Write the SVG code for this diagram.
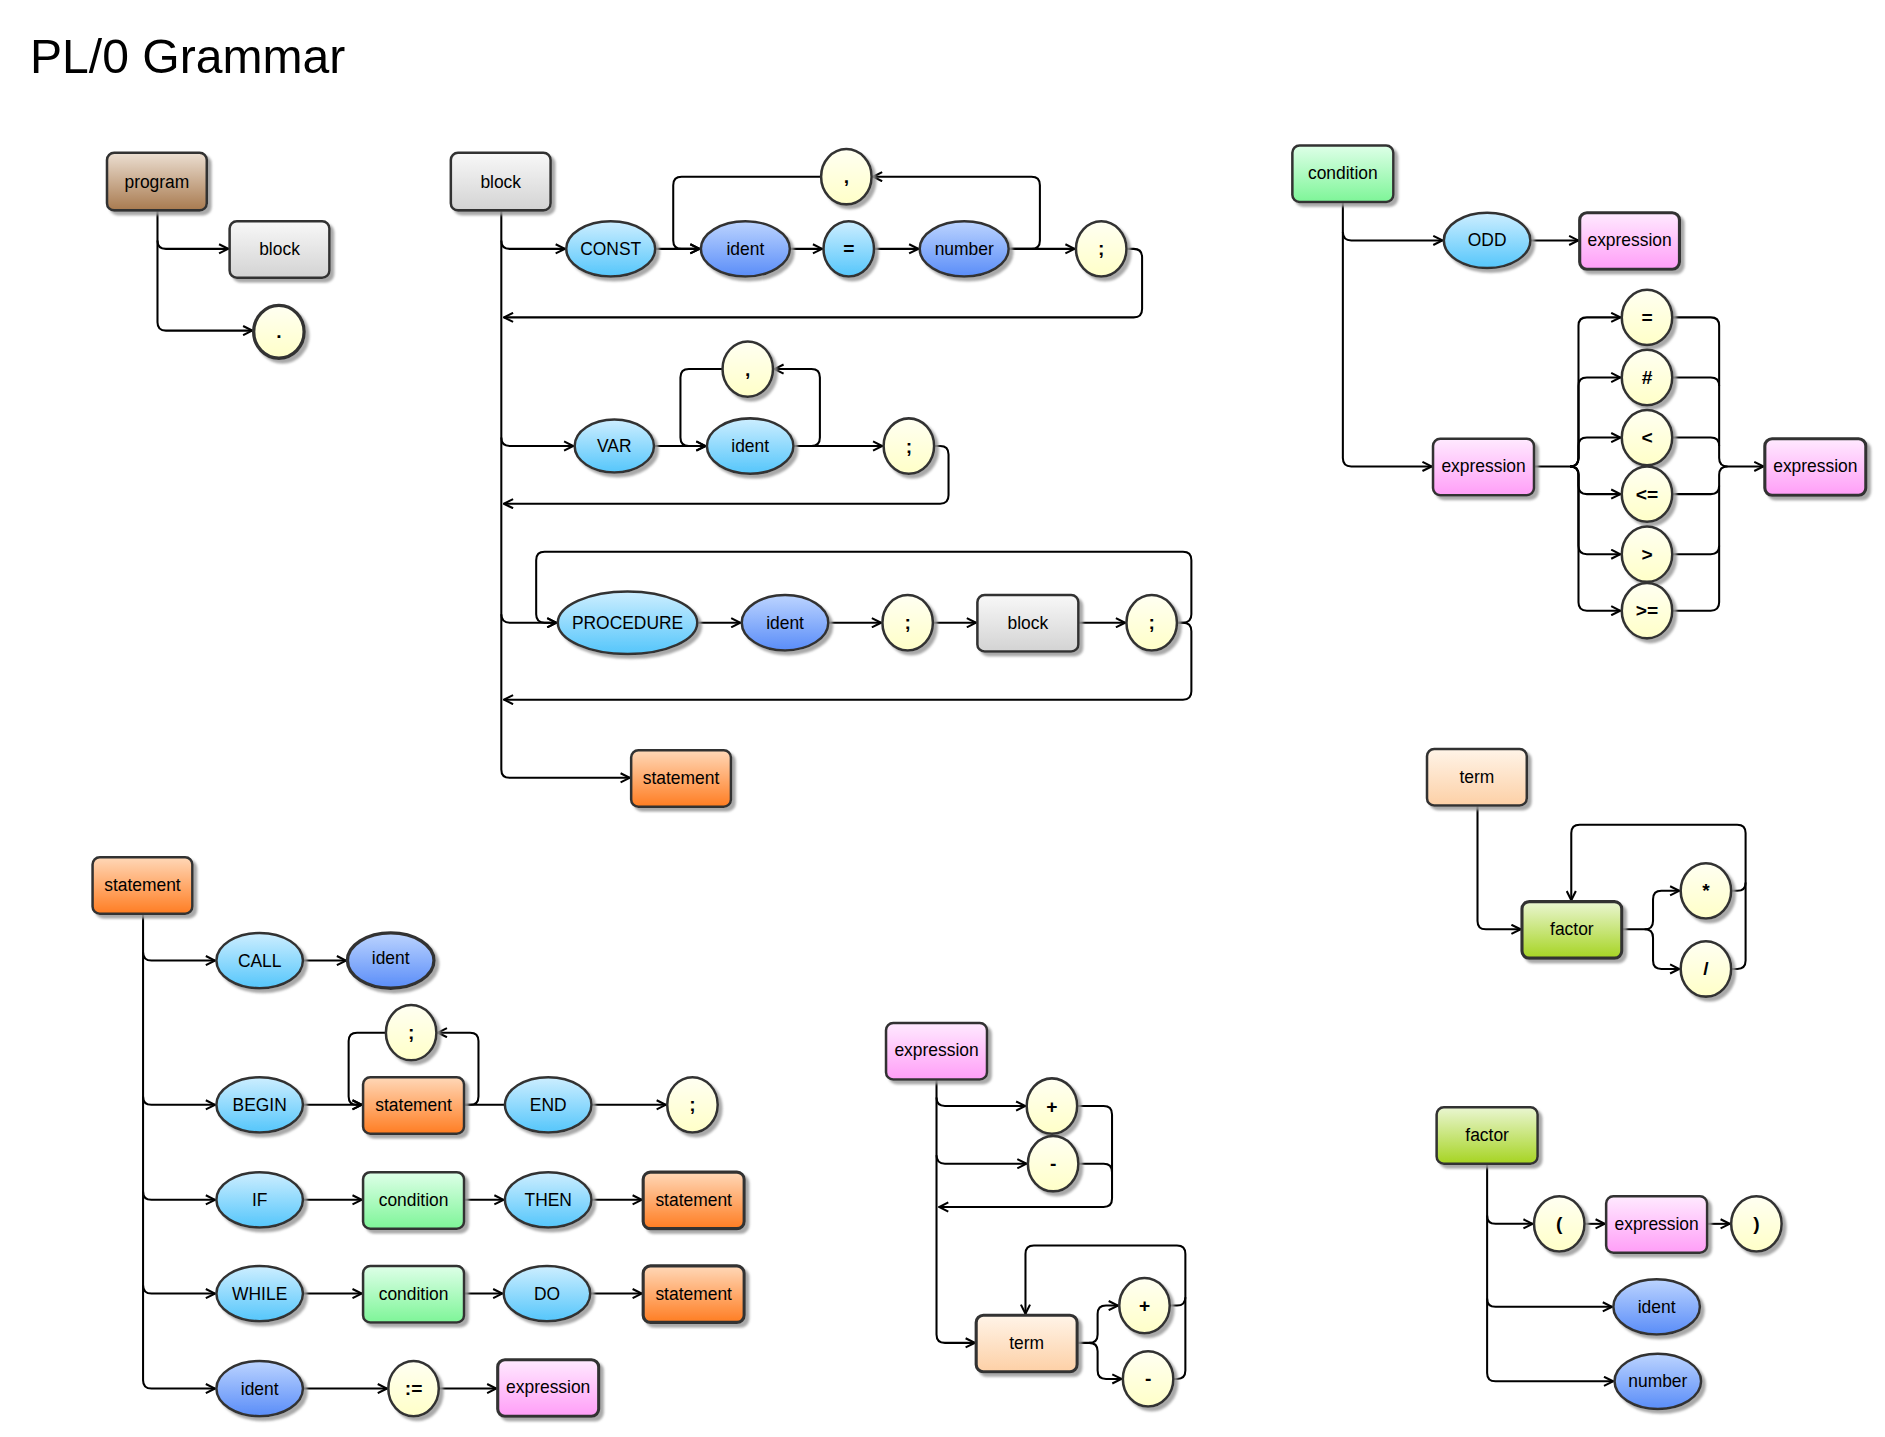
<svg xmlns="http://www.w3.org/2000/svg" width="1885" height="1437" viewBox="0 0 1885 1437">
<defs>
<style>
.c{fill:none;stroke:#000;stroke-width:1.7;stroke-linejoin:round}
.a{marker-end:url(#ar)}
.n{stroke:#333;stroke-width:2.1;filter:url(#sh)}
.t{font-family:"Liberation Sans",Arial,sans-serif;font-size:14.5px;text-anchor:middle;dominant-baseline:central;fill:#000}
.b{font-weight:bold;font-size:16px}
.gy{fill:url(#gGray)}.br{fill:url(#gBrown)}.ye{fill:url(#gYel)}.lb{fill:url(#gLB)}.db{fill:url(#gDB)}
.or{fill:url(#gOr)}.gr{fill:url(#gGr)}.pk{fill:url(#gPk)}.pe{fill:url(#gPe)}.li{fill:url(#gLi)}
</style>
<filter id="sh" x="-20%" y="-20%" width="150%" height="150%"><feDropShadow dx="3" dy="3" stdDeviation="0.8" flood-color="#9a9a9a" flood-opacity="0.85"/></filter>
<marker id="ar" viewBox="0 0 10 10" refX="9.2" refY="5" markerWidth="9.5" markerHeight="9.5" markerUnits="userSpaceOnUse" orient="auto"><path d="M1,1 L9,5 L1,9" fill="none" stroke="#000" stroke-width="1.8"/></marker>
<linearGradient id="gGray" x1="0" y1="0" x2="0" y2="1"><stop offset="0" stop-color="#f8f8f8"/><stop offset="1" stop-color="#d3d3d3"/></linearGradient>
<linearGradient id="gBrown" x1="0" y1="0" x2="0" y2="1"><stop offset="0" stop-color="#ecdfd2"/><stop offset="1" stop-color="#a87a4f"/></linearGradient>
<linearGradient id="gYel" x1="0" y1="0" x2="0" y2="1"><stop offset="0" stop-color="#fffff2"/><stop offset="1" stop-color="#ffffc8"/></linearGradient>
<linearGradient id="gLB" x1="0" y1="0" x2="0" y2="1"><stop offset="0" stop-color="#cdeeff"/><stop offset="1" stop-color="#55c6fb"/></linearGradient>
<linearGradient id="gDB" x1="0" y1="0" x2="0" y2="1"><stop offset="0" stop-color="#bcd4ff"/><stop offset="1" stop-color="#5a8df8"/></linearGradient>
<linearGradient id="gOr" x1="0" y1="0" x2="0" y2="1"><stop offset="0" stop-color="#ffd8b8"/><stop offset="1" stop-color="#ff7d22"/></linearGradient>
<linearGradient id="gGr" x1="0" y1="0" x2="0" y2="1"><stop offset="0" stop-color="#deffe8"/><stop offset="1" stop-color="#7ef598"/></linearGradient>
<linearGradient id="gPk" x1="0" y1="0" x2="0" y2="1"><stop offset="0" stop-color="#ffeaff"/><stop offset="1" stop-color="#ff9ef7"/></linearGradient>
<linearGradient id="gPe" x1="0" y1="0" x2="0" y2="1"><stop offset="0" stop-color="#fff4e8"/><stop offset="1" stop-color="#fdd0a6"/></linearGradient>
<linearGradient id="gLi" x1="0" y1="0" x2="0" y2="1"><stop offset="0" stop-color="#eaf6d2"/><stop offset="1" stop-color="#a6d422"/></linearGradient>
</defs>
<rect width="1885" height="1437" fill="#fff"/>
<g transform="scale(1.2022)">
<text x="25" y="61" font-family="'Liberation Sans',Arial,sans-serif" font-size="40" fill="#000">PL/0 Grammar</text>

<g id="connectors">
<!-- program -->
<path class="c a" d="M131,175 V200 Q131,207 138,207 H190"/>
<path class="c a" d="M131,200 V268 Q131,275 138,275 H210"/>
<!-- block -->
<path class="c a" d="M417,175 V640 Q417,647 424,647 H524"/>
<path class="c a" d="M417,200 Q417,207 424,207 H470"/>
<path class="c a" d="M545,207 H582"/>
<path class="c a" d="M657,207 H684"/>
<path class="c a" d="M727,207 H764"/>
<path class="c a" d="M839,207 H894"/>
<path class="c a" d="M839,207 H858 Q865,207 865,200 V154 Q865,147 858,147 H726"/>
<path class="c a" d="M683,147 H567 Q560,147 560,154 V200 Q560,207 567,207 H582"/>
<path class="c a" d="M937,207 H943 Q950,207 950,214 V257 Q950,264 943,264 H419"/>
<path class="c a" d="M417,364 Q417,371 424,371 H477"/>
<path class="c a" d="M544,371 H587"/>
<path class="c a" d="M660,371 H734"/>
<path class="c a" d="M660,371 H675 Q682,371 682,364 V314 Q682,307 675,307 H644"/>
<path class="c a" d="M601,307 H573 Q566,307 566,314 V364 Q566,371 573,371 H587"/>
<path class="c a" d="M777,371 H782 Q789,371 789,378 V412 Q789,419 782,419 H419"/>
<path class="c a" d="M417,511 Q417,518 424,518 H463"/>
<path class="c a" d="M979,518 H984 Q991,518 991,511 V466 Q991,459 984,459 H453 Q446,459 446,466 V511 Q446,518 453,518 H463"/>
<path class="c a" d="M979,518 H984 Q991,518 991,525 V575 Q991,582 984,582 H419"/>
<path class="c a" d="M580,518 H616"/>
<path class="c a" d="M689,518 H733"/>
<path class="c a" d="M776,518 H812"/>
<path class="c a" d="M897,518 H936"/>
<!-- condition -->
<path class="c a" d="M1117,168 V381 Q1117,388 1124,388 H1191"/>
<path class="c a" d="M1117,193 Q1117,200 1124,200 H1200"/>
<path class="c a" d="M1273,200 H1313"/>
<path class="c a" d="M1276,388 H1306 Q1313,388 1313,381 V271 Q1313,264 1320,264 H1348"/>
<path class="c a" d="M1306,388 Q1313,388 1313,381 V321 Q1313,314 1320,314 H1348"/>
<path class="c a" d="M1306,388 Q1313,388 1313,381 V371 Q1313,364 1320,364 H1348"/>
<path class="c a" d="M1306,388 Q1313,388 1313,395 V404 Q1313,411 1320,411 H1348"/>
<path class="c a" d="M1306,388 Q1313,388 1313,395 V454 Q1313,461 1320,461 H1348"/>
<path class="c a" d="M1306,388 Q1313,388 1313,395 V501 Q1313,508 1320,508 H1348"/>
<path class="c a" d="M1391,264 H1423 Q1430,264 1430,271 V381 Q1430,388 1437,388 H1467"/>
<path class="c" d="M1391,314 H1423 Q1430,314 1430,321"/>
<path class="c" d="M1391,364 H1423 Q1430,364 1430,371"/>
<path class="c" d="M1391,411 H1423 Q1430,411 1430,404"/>
<path class="c" d="M1391,461 H1423 Q1430,461 1430,454"/>
<path class="c" d="M1391,508 H1423 Q1430,508 1430,501 V395 Q1430,388 1437,388"/>
<!-- term -->
<path class="c a" d="M1229,670 V766 Q1229,773 1236,773 H1265"/>
<path class="c a" d="M1349,773 H1368 Q1375,773 1375,766 V748 Q1375,741 1382,741 H1397"/>
<path class="c a" d="M1368,773 Q1375,773 1375,780 V799 Q1375,806 1382,806 H1397"/>
<path class="c a" d="M1440,806 H1445 Q1452,806 1452,799 V693 Q1452,686 1445,686 H1314 Q1307,686 1307,693 V749"/>
<path class="c" d="M1440,741 H1445 Q1452,741 1452,734"/>
<!-- statement -->
<path class="c a" d="M119,760 V1148 Q119,1155 126,1155 H179"/>
<path class="c a" d="M119,792 Q119,799 126,799 H179"/>
<path class="c a" d="M119,912 Q119,919 126,919 H179"/>
<path class="c a" d="M119,991 Q119,998 126,998 H179"/>
<path class="c a" d="M119,1069 Q119,1076 126,1076 H179"/>
<path class="c a" d="M252,799 H288"/>
<path class="c a" d="M252,919 H301"/>
<path class="c a" d="M386,919 H391 Q398,919 398,912 V866 Q398,859 391,859 H364"/>
<path class="c a" d="M321,859 H297 Q290,859 290,866 V912 Q290,919 297,919 H301"/>
<path class="c" d="M386,919 H420"/>
<path class="c a" d="M492,919 H554"/>
<path class="c a" d="M252,998 H301"/>
<path class="c a" d="M386,998 H419"/>
<path class="c a" d="M492,998 H534"/>
<path class="c a" d="M252,1076 H301"/>
<path class="c a" d="M386,1076 H418"/>
<path class="c a" d="M491,1076 H534"/>
<path class="c a" d="M252,1155 H322"/>
<path class="c a" d="M365,1155 H413"/>
<!-- expression -->
<path class="c a" d="M779,898 V1110 Q779,1117 786,1117 H811"/>
<path class="c a" d="M779,913 Q779,920 786,920 H853"/>
<path class="c a" d="M779,961 Q779,968 786,968 H854"/>
<path class="c a" d="M896,920 H918 Q925,920 925,927 V997 Q925,1004 918,1004 H781"/>
<path class="c" d="M897,968 H918 Q925,968 925,975"/>
<path class="c a" d="M896,1117 H906 Q913,1117 913,1110 V1093 Q913,1086 920,1086 H930"/>
<path class="c a" d="M906,1117 Q913,1117 913,1124 V1140 Q913,1147 920,1147 H933"/>
<path class="c a" d="M976,1147 H979 Q986,1147 986,1140 V1043 Q986,1036 979,1036 H860 Q853,1036 853,1043 V1093"/>
<path class="c" d="M973,1086 H979 Q986,1086 986,1079"/>
<!-- factor -->
<path class="c a" d="M1237,968 V1142 Q1237,1149 1244,1149 H1342"/>
<path class="c a" d="M1237,1011 Q1237,1018 1244,1018 H1275"/>
<path class="c a" d="M1237,1080 Q1237,1087 1244,1087 H1341"/>
<path class="c a" d="M1318,1018 H1335"/>
<path class="c a" d="M1420,1018 H1439"/>
</g>

<!-- program section -->
<g id="program"><rect class="n br" x="89" y="127" width="83" height="48" rx="6"/><text class="t" x="130.5" y="151">program</text></g>
<g id="program-block"><rect class="n gy" x="191" y="184" width="83" height="47" rx="6"/><text class="t" x="232.5" y="207.5">block</text></g>
<g id="program-dot"><ellipse class="n ye" cx="232" cy="276" rx="21" ry="22" style="stroke-width:2.8"/><text class="t b" x="232" y="276">.</text></g>

<!-- block section -->
<g id="block"><rect class="n gy" x="375" y="127" width="83" height="48" rx="6"/><text class="t" x="416.5" y="151">block</text></g>
<g id="block-const"><ellipse class="n lb" cx="508" cy="207" rx="37" ry="23"/><text class="t" x="508" y="207">CONST</text></g>
<g id="block-const-ident"><ellipse class="n db" cx="620" cy="207" rx="37" ry="23"/><text class="t" x="620" y="207">ident</text></g>
<g id="block-const-eq"><ellipse class="n lb" cx="706" cy="207" rx="21" ry="23"/><text class="t b" x="706" y="207">=</text></g>
<g id="block-const-number"><ellipse class="n db" cx="802" cy="207" rx="37" ry="23"/><text class="t" x="802" y="207">number</text></g>
<g id="block-const-comma"><ellipse class="n ye" cx="704" cy="147" rx="21" ry="23"/><text class="t b" x="704" y="147">,</text></g>
<g id="block-const-semi"><ellipse class="n ye" cx="916" cy="207" rx="21" ry="23"/><text class="t b" x="916" y="207">;</text></g>
<g id="block-var"><ellipse class="n lb" cx="511" cy="371" rx="33" ry="22"/><text class="t" x="511" y="371">VAR</text></g>
<g id="block-var-ident"><ellipse class="n lb" cx="624" cy="371" rx="36" ry="23"/><text class="t" x="624" y="371">ident</text></g>
<g id="block-var-comma"><ellipse class="n ye" cx="622" cy="307" rx="21" ry="23"/><text class="t b" x="622" y="307">,</text></g>
<g id="block-var-semi"><ellipse class="n ye" cx="756" cy="371" rx="21" ry="23"/><text class="t b" x="756" y="371">;</text></g>
<g id="block-procedure"><ellipse class="n lb" cx="522" cy="518" rx="58" ry="26"/><text class="t" x="522" y="518">PROCEDURE</text></g>
<g id="block-proc-ident"><ellipse class="n db" cx="653" cy="518" rx="36" ry="23"/><text class="t" x="653" y="518">ident</text></g>
<g id="block-proc-semi1"><ellipse class="n ye" cx="755" cy="518" rx="21" ry="23"/><text class="t b" x="755" y="518">;</text></g>
<g id="block-proc-block"><rect class="n gy" x="813" y="495" width="84" height="47" rx="6"/><text class="t" x="855" y="518">block</text></g>
<g id="block-proc-semi2"><ellipse class="n ye" cx="958" cy="518" rx="21" ry="23"/><text class="t b" x="958" y="518">;</text></g>
<g id="block-statement"><rect class="n or" x="525" y="624" width="83" height="47" rx="6"/><text class="t" x="566.5" y="647.5">statement</text></g>

<!-- condition section -->
<g id="condition"><rect class="n gr" x="1075" y="121" width="84" height="47" rx="6"/><text class="t" x="1117" y="144">condition</text></g>
<g id="cond-odd"><ellipse class="n lb" cx="1237" cy="200" rx="36" ry="23"/><text class="t" x="1237" y="200">ODD</text></g>
<g id="cond-odd-expr"><rect class="n pk" x="1314" y="177" width="83" height="47" rx="6" style="stroke-width:2.6"/><text class="t" x="1355.5" y="200">expression</text></g>
<g id="cond-expr1"><rect class="n pk" x="1192" y="365" width="84" height="47" rx="6"/><text class="t" x="1234" y="388">expression</text></g>
<g id="cond-eq"><ellipse class="n ye" cx="1370" cy="264" rx="21" ry="23"/><text class="t b" x="1370" y="264">=</text></g>
<g id="cond-ne"><ellipse class="n ye" cx="1370" cy="314" rx="21" ry="23"/><text class="t b" x="1370" y="314">#</text></g>
<g id="cond-lt"><ellipse class="n ye" cx="1370" cy="364" rx="21" ry="23"/><text class="t b" x="1370" y="364">&lt;</text></g>
<g id="cond-le"><ellipse class="n ye" cx="1370" cy="411" rx="21" ry="23"/><text class="t b" x="1370" y="411">&lt;=</text></g>
<g id="cond-gt"><ellipse class="n ye" cx="1370" cy="461" rx="21" ry="23"/><text class="t b" x="1370" y="461">&gt;</text></g>
<g id="cond-ge"><ellipse class="n ye" cx="1370" cy="508" rx="21" ry="23"/><text class="t b" x="1370" y="508">&gt;=</text></g>
<g id="cond-expr2"><rect class="n pk" x="1468" y="365" width="84" height="47" rx="6" style="stroke-width:2.6"/><text class="t" x="1510" y="388">expression</text></g>

<!-- term section -->
<g id="term"><rect class="n pe" x="1187" y="623" width="83" height="47" rx="6"/><text class="t" x="1228.5" y="646">term</text></g>
<g id="term-factor"><rect class="n li" x="1266" y="750" width="83" height="47" rx="6" style="stroke-width:2.6"/><text class="t" x="1307.5" y="773">factor</text></g>
<g id="term-mul"><ellipse class="n ye" cx="1419" cy="741" rx="21" ry="23"/><text class="t b" x="1419" y="741">*</text></g>
<g id="term-div"><ellipse class="n ye" cx="1419" cy="806" rx="21" ry="23"/><text class="t b" x="1419" y="806">/</text></g>

<!-- statement section -->
<g id="statement"><rect class="n or" x="77" y="713" width="83" height="47" rx="6"/><text class="t" x="118.5" y="736">statement</text></g>
<g id="stmt-call"><ellipse class="n lb" cx="216" cy="799" rx="36" ry="23"/><text class="t" x="216" y="799">CALL</text></g>
<g id="stmt-call-ident"><ellipse class="n db" cx="325" cy="799" rx="36" ry="23" style="stroke-width:2.8"/><text class="t" x="325" y="797">ident</text></g>
<g id="stmt-begin"><ellipse class="n lb" cx="216" cy="919" rx="36" ry="23"/><text class="t" x="216" y="919">BEGIN</text></g>
<g id="stmt-begin-semi"><ellipse class="n ye" cx="342" cy="859" rx="21" ry="23"/><text class="t b" x="342" y="859">;</text></g>
<g id="stmt-begin-stmt"><rect class="n or" x="302" y="896" width="84" height="47" rx="6"/><text class="t" x="344" y="919">statement</text></g>
<g id="stmt-end"><ellipse class="n lb" cx="456" cy="919" rx="36" ry="23"/><text class="t" x="456" y="919">END</text></g>
<g id="stmt-end-semi"><ellipse class="n ye" cx="576" cy="919" rx="21" ry="23"/><text class="t b" x="576" y="919">;</text></g>
<g id="stmt-if"><ellipse class="n lb" cx="216" cy="998" rx="36" ry="23"/><text class="t" x="216" y="998">IF</text></g>
<g id="stmt-if-cond"><rect class="n gr" x="302" y="975" width="84" height="47" rx="6"/><text class="t" x="344" y="998">condition</text></g>
<g id="stmt-then"><ellipse class="n lb" cx="456" cy="998" rx="36" ry="23"/><text class="t" x="456" y="998">THEN</text></g>
<g id="stmt-then-stmt"><rect class="n or" x="535" y="975" width="84" height="47" rx="6" style="stroke-width:2.6"/><text class="t" x="577" y="998">statement</text></g>
<g id="stmt-while"><ellipse class="n lb" cx="216" cy="1076" rx="36" ry="23"/><text class="t" x="216" y="1076">WHILE</text></g>
<g id="stmt-while-cond"><rect class="n gr" x="302" y="1053" width="84" height="47" rx="6"/><text class="t" x="344" y="1076">condition</text></g>
<g id="stmt-do"><ellipse class="n lb" cx="455" cy="1076" rx="36" ry="23"/><text class="t" x="455" y="1076">DO</text></g>
<g id="stmt-do-stmt"><rect class="n or" x="535" y="1053" width="84" height="47" rx="6" style="stroke-width:2.6"/><text class="t" x="577" y="1076">statement</text></g>
<g id="stmt-ident"><ellipse class="n db" cx="216" cy="1155" rx="36" ry="23"/><text class="t" x="216" y="1155">ident</text></g>
<g id="stmt-assign"><ellipse class="n ye" cx="344" cy="1155" rx="21" ry="23"/><text class="t b" x="344" y="1155">:=</text></g>
<g id="stmt-assign-expr"><rect class="n pk" x="414" y="1131" width="84" height="47" rx="6" style="stroke-width:2.6"/><text class="t" x="456" y="1154">expression</text></g>

<!-- expression section -->
<g id="expression"><rect class="n pk" x="737" y="851" width="84" height="47" rx="6"/><text class="t" x="779" y="873">expression</text></g>
<g id="expr-plus"><ellipse class="n ye" cx="875" cy="920" rx="21" ry="23"/><text class="t b" x="875" y="920">+</text></g>
<g id="expr-minus"><ellipse class="n ye" cx="876" cy="968" rx="21" ry="23"/><text class="t b" x="876" y="968">-</text></g>
<g id="expr-term"><rect class="n pe" x="812" y="1094" width="84" height="47" rx="6" style="stroke-width:2.6"/><text class="t" x="854" y="1117">term</text></g>
<g id="expr-plus2"><ellipse class="n ye" cx="952" cy="1086" rx="21" ry="23"/><text class="t b" x="952" y="1086">+</text></g>
<g id="expr-minus2"><ellipse class="n ye" cx="955" cy="1147" rx="21" ry="23"/><text class="t b" x="955" y="1147">-</text></g>

<!-- factor section -->
<g id="factor"><rect class="n li" x="1195" y="921" width="84" height="47" rx="6"/><text class="t" x="1237" y="944">factor</text></g>
<g id="factor-lparen"><ellipse class="n ye" cx="1297" cy="1018" rx="21" ry="23"/><text class="t b" x="1297" y="1018">(</text></g>
<g id="factor-expr"><rect class="n pk" x="1336" y="995" width="84" height="47" rx="6"/><text class="t" x="1378" y="1018">expression</text></g>
<g id="factor-rparen"><ellipse class="n ye" cx="1461" cy="1018" rx="21" ry="23"/><text class="t b" x="1461" y="1018">)</text></g>
<g id="factor-ident"><ellipse class="n db" cx="1378" cy="1087" rx="36" ry="23"/><text class="t" x="1378" y="1087">ident</text></g>
<g id="factor-number"><ellipse class="n db" cx="1379" cy="1149" rx="36" ry="23"/><text class="t" x="1379" y="1149">number</text></g>
</g>
</svg>
